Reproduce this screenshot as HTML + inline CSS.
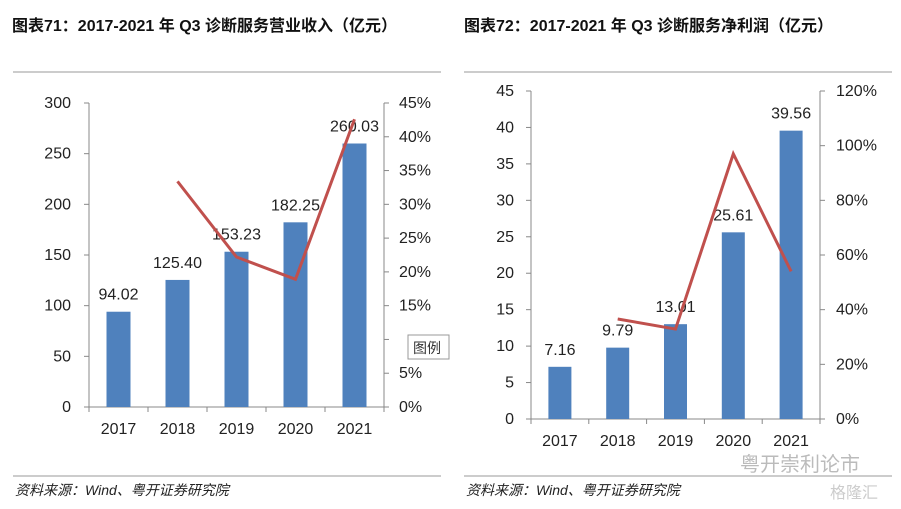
<!DOCTYPE html>
<html><head><meta charset="utf-8"><style>
body{margin:0;width:901px;height:504px;background:#fff;overflow:hidden;font-family:"Liberation Sans","Noto Sans CJK SC",sans-serif;}
svg text{font-family:"Liberation Sans","Noto Sans CJK SC",sans-serif;}
</style></head><body>
<svg width="901" height="504">
<text x="12" y="31" font-size="16" font-weight="bold" fill="#111">图表71：2017-2021 年 Q3 诊断服务营业收入（亿元）</text>
<text x="464" y="31" font-size="16" font-weight="bold" fill="#111">图表72：2017-2021 年 Q3 诊断服务净利润（亿元）</text>
<line x1="13" y1="72" x2="441" y2="72" stroke="#999"/>
<line x1="464" y1="72" x2="892" y2="72" stroke="#999"/>
<line x1="13" y1="476" x2="441" y2="476" stroke="#999"/>
<line x1="464" y1="476" x2="892" y2="476" stroke="#999"/>
<text x="15" y="495" font-size="14" font-style="italic" fill="#222">资料来源：Wind、粤开证券研究院</text>
<text x="466" y="495" font-size="14" font-style="italic" fill="#222">资料来源：Wind、粤开证券研究院</text>
<text x="740" y="471" font-size="20" fill="#bbb">粤开崇利论市</text>
<text x="830" y="498" font-size="16" fill="#ccc">格隆汇</text>
<g id="left"></g>
<g id="right"></g>
<g>
<rect x="408" y="335" width="41" height="24" fill="#fff" stroke="#999"/>
<text x="413" y="353" font-size="14" fill="#333">图例</text>
</g>
</svg>
<script>
const categories=["2017","2018","2019","2020","2021"];
const revenue=[94.02,125.40,153.23,182.25,260.03];
const revenueGrowth=[null,33.4,22.2,18.9,42.6];
const profit=[7.16,9.79,13.01,25.61,39.56];
const profitGrowth=[null,36.6,32.9,97.0,54.0];
const leftTicks=[0,50,100,150,200,250,300];
const leftPctTicks=[0,5,10,15,20,25,30,35,40,45];
const rightTicks=[0,5,10,15,20,25,30,35,40,45];
const rightPctTicks=[0,20,40,60,80,100,120];
const NS="http://www.w3.org/2000/svg";
function el(p,t,a){const e=document.createElementNS(NS,t);for(const k in a)e.setAttribute(k,a[k]);p.appendChild(e);return e;}
function draw(g,cfg){
 const {x0,x1,y0,y1,vals,growth,ticks,pticks,vmax,pmax,bw,lblX,plblX,hidePct}=cfg;
 const step=(x1-x0)/categories.length;
 const y=v=>y1-(v/vmax)*(y1-y0), yp=v=>y1-(v/pmax)*(y1-y0), cx=i=>x0+step*(i+0.5);
 let a=el(g,"line",{x1:x0,y1:y0,x2:x0,y2:y1,stroke:"#888"});
 
 a=el(g,"line",{x1:x1,y1:y0,x2:x1,y2:y1,stroke:"#888"});
 
 a=el(g,"line",{x1:x0,y1:y1,x2:x1,y2:y1,stroke:"#888"});
 
 ticks.forEach(t=>{el(g,"line",{x1:x0-5,x2:x0,y1:y(t),y2:y(t),stroke:"#888"});
  const tx=el(g,"text",{x:lblX,y:y(t)+5,"font-size":16,"text-anchor":"end",fill:"#222"});tx.textContent=t;
  });
 pticks.forEach(t=>{el(g,"line",{x1:x1,x2:x1+5,y1:yp(t),y2:yp(t),stroke:"#888"});
  if(hidePct&&t===10)return;
  const tx=el(g,"text",{x:plblX,y:yp(t)+5,"font-size":16,fill:"#222"});tx.textContent=t+"%";
  });
 for(let i=0;i<=categories.length;i++)el(g,"line",{x1:x0+step*i,x2:x0+step*i,y1:y1,y2:y1+5,stroke:"#888"});
 categories.forEach((c,i)=>{
  const r=el(g,"rect",{x:cx(i)-bw/2,y:y(vals[i]),width:bw,height:y1-y(vals[i]),fill:"#4f81bd"});
  
  const l=el(g,"text",{x:cx(i),y:y(vals[i])-12,"font-size":16,"text-anchor":"middle",fill:"#222"});l.textContent=vals[i].toFixed(2);
  
  const xl=el(g,"text",{x:cx(i),y:y1+27,"font-size":16,"text-anchor":"middle",fill:"#222"});xl.textContent=c;
  
 });
 const pts=[];growth.forEach((v,i)=>{if(v!==null)pts.push(cx(i)+","+yp(v));});
 const pl=el(g,"polyline",{points:pts.join(" "),fill:"none",stroke:"#c0504d","stroke-width":3});
 
}
draw(document.getElementById("left"),{x0:89,x1:384,y0:103,y1:407,vals:revenue,growth:revenueGrowth,ticks:leftTicks,pticks:leftPctTicks,vmax:300,pmax:45,bw:24,lblX:71,plblX:399,hidePct:true});
draw(document.getElementById("right"),{x0:531,x1:820,y0:91,y1:419,vals:profit,growth:profitGrowth,ticks:rightTicks,pticks:rightPctTicks,vmax:45,pmax:120,bw:23,lblX:514,plblX:836,hidePct:false});
</script>
</body></html>
